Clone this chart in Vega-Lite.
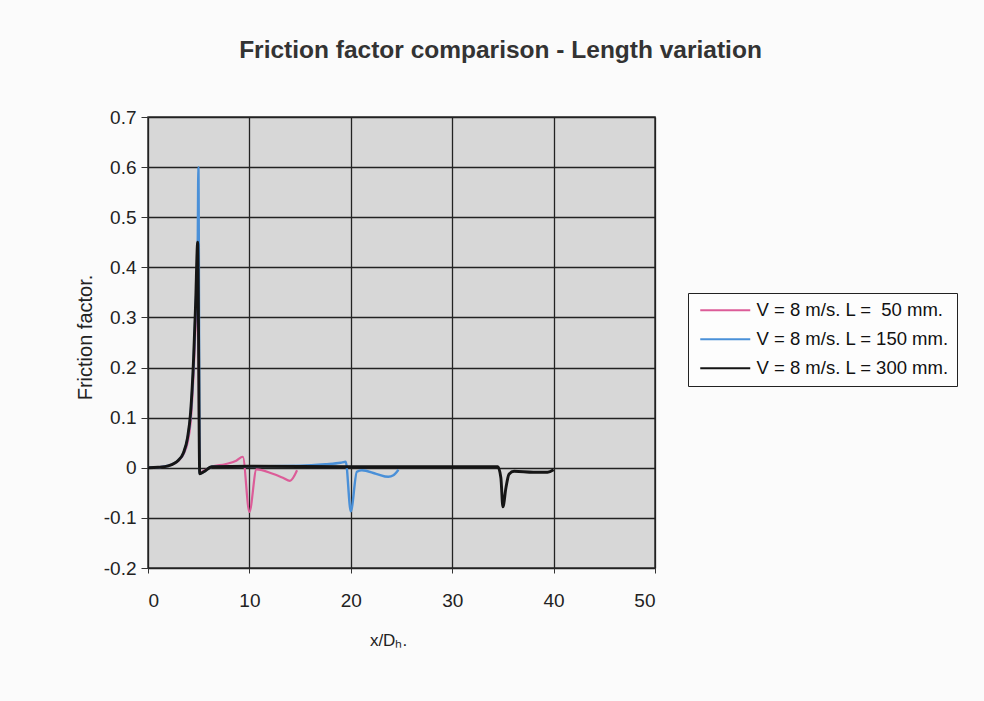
{
  "$schema": "https://vega.github.io/schema/vega-lite/v6.json",
  "autosize": {"type": "none"},
  "width": 507,
  "height": 451,
  "padding": {"left": 148, "top": 117, "right": 329, "bottom": 133},
  "background": "#fbfbfb",
  "title": {
    "text": "Friction factor comparison - Length variation",
    "anchor": "middle",
    "dx": 99,
    "offset": 45,
    "font": "Liberation Sans",
    "fontSize": 24.5,
    "fontWeight": "bold",
    "color": "#333333"
  },
  "config": {
    "view": {"fill": "#d7d7d7", "stroke": "#333333", "strokeWidth": 1.5},
    "font": "Liberation Sans"
  },
  "datasets": {
    "friction": [
      {"series": "V = 8 m/s. L = \u00a050 mm.", "x": 0, "f": 0.0},
      {"series": "V = 8 m/s. L = \u00a050 mm.", "x": 1, "f": 0.001},
      {"series": "V = 8 m/s. L = \u00a050 mm.", "x": 2, "f": 0.004},
      {"series": "V = 8 m/s. L = \u00a050 mm.", "x": 3, "f": 0.014},
      {"series": "V = 8 m/s. L = \u00a050 mm.", "x": 3.5, "f": 0.027},
      {"series": "V = 8 m/s. L = \u00a050 mm.", "x": 3.9, "f": 0.05},
      {"series": "V = 8 m/s. L = \u00a050 mm.", "x": 4.2, "f": 0.09},
      {"series": "V = 8 m/s. L = \u00a050 mm.", "x": 4.5, "f": 0.19},
      {"series": "V = 8 m/s. L = \u00a050 mm.", "x": 4.7, "f": 0.29},
      {"series": "V = 8 m/s. L = \u00a050 mm.", "x": 4.9, "f": 0.4},
      {"series": "V = 8 m/s. L = \u00a050 mm.", "x": 5.1, "f": -0.01},
      {"series": "V = 8 m/s. L = \u00a050 mm.", "x": 5.5, "f": -0.006},
      {"series": "V = 8 m/s. L = \u00a050 mm.", "x": 6.3, "f": 0.002},
      {"series": "V = 8 m/s. L = \u00a050 mm.", "x": 7.6, "f": 0.007},
      {"series": "V = 8 m/s. L = \u00a050 mm.", "x": 8.7, "f": 0.014},
      {"series": "V = 8 m/s. L = \u00a050 mm.", "x": 9.35, "f": 0.022},
      {"series": "V = 8 m/s. L = \u00a050 mm.", "x": 10.0, "f": -0.088},
      {"series": "V = 8 m/s. L = \u00a050 mm.", "x": 10.7, "f": -0.003},
      {"series": "V = 8 m/s. L = \u00a050 mm.", "x": 12.3, "f": -0.012},
      {"series": "V = 8 m/s. L = \u00a050 mm.", "x": 13.3, "f": -0.02},
      {"series": "V = 8 m/s. L = \u00a050 mm.", "x": 14.0, "f": -0.026},
      {"series": "V = 8 m/s. L = \u00a050 mm.", "x": 14.7, "f": -0.005},

      {"series": "V = 8 m/s. L = 150 mm.", "x": 0, "f": 0.0},
      {"series": "V = 8 m/s. L = 150 mm.", "x": 1, "f": 0.001},
      {"series": "V = 8 m/s. L = 150 mm.", "x": 2, "f": 0.004},
      {"series": "V = 8 m/s. L = 150 mm.", "x": 3, "f": 0.015},
      {"series": "V = 8 m/s. L = 150 mm.", "x": 3.5, "f": 0.029},
      {"series": "V = 8 m/s. L = 150 mm.", "x": 3.9, "f": 0.058},
      {"series": "V = 8 m/s. L = 150 mm.", "x": 4.2, "f": 0.105},
      {"series": "V = 8 m/s. L = 150 mm.", "x": 4.5, "f": 0.21},
      {"series": "V = 8 m/s. L = 150 mm.", "x": 4.7, "f": 0.32},
      {"series": "V = 8 m/s. L = 150 mm.", "x": 4.9, "f": 0.44},
      {"series": "V = 8 m/s. L = 150 mm.", "x": 4.97, "f": 0.6},
      {"series": "V = 8 m/s. L = 150 mm.", "x": 5.1, "f": -0.012},
      {"series": "V = 8 m/s. L = 150 mm.", "x": 5.5, "f": -0.008},
      {"series": "V = 8 m/s. L = 150 mm.", "x": 6.3, "f": 0.002},
      {"series": "V = 8 m/s. L = 150 mm.", "x": 10, "f": 0.003},
      {"series": "V = 8 m/s. L = 150 mm.", "x": 15, "f": 0.004},
      {"series": "V = 8 m/s. L = 150 mm.", "x": 17.5, "f": 0.007},
      {"series": "V = 8 m/s. L = 150 mm.", "x": 19.0, "f": 0.01},
      {"series": "V = 8 m/s. L = 150 mm.", "x": 19.5, "f": 0.012},
      {"series": "V = 8 m/s. L = 150 mm.", "x": 20.0, "f": -0.087},
      {"series": "V = 8 m/s. L = 150 mm.", "x": 20.6, "f": -0.008},
      {"series": "V = 8 m/s. L = 150 mm.", "x": 21.1, "f": -0.005},
      {"series": "V = 8 m/s. L = 150 mm.", "x": 22.5, "f": -0.012},
      {"series": "V = 8 m/s. L = 150 mm.", "x": 23.7, "f": -0.018},
      {"series": "V = 8 m/s. L = 150 mm.", "x": 24.2, "f": -0.015},
      {"series": "V = 8 m/s. L = 150 mm.", "x": 24.7, "f": -0.004},

      {"series": "V = 8 m/s. L = 300 mm.", "x": 0, "f": 0.0},
      {"series": "V = 8 m/s. L = 300 mm.", "x": 1, "f": 0.001},
      {"series": "V = 8 m/s. L = 300 mm.", "x": 2, "f": 0.004},
      {"series": "V = 8 m/s. L = 300 mm.", "x": 3, "f": 0.015},
      {"series": "V = 8 m/s. L = 300 mm.", "x": 3.5, "f": 0.03},
      {"series": "V = 8 m/s. L = 300 mm.", "x": 3.9, "f": 0.06},
      {"series": "V = 8 m/s. L = 300 mm.", "x": 4.2, "f": 0.11},
      {"series": "V = 8 m/s. L = 300 mm.", "x": 4.5, "f": 0.22},
      {"series": "V = 8 m/s. L = 300 mm.", "x": 4.7, "f": 0.33},
      {"series": "V = 8 m/s. L = 300 mm.", "x": 4.9, "f": 0.45},
      {"series": "V = 8 m/s. L = 300 mm.", "x": 5.1, "f": -0.012},
      {"series": "V = 8 m/s. L = 300 mm.", "x": 5.5, "f": -0.008},
      {"series": "V = 8 m/s. L = 300 mm.", "x": 6.3, "f": 0.002},
      {"series": "V = 8 m/s. L = 300 mm.", "x": 10, "f": 0.003},
      {"series": "V = 8 m/s. L = 300 mm.", "x": 20, "f": 0.002},
      {"series": "V = 8 m/s. L = 300 mm.", "x": 30, "f": 0.002},
      {"series": "V = 8 m/s. L = 300 mm.", "x": 34.5, "f": 0.002},
      {"series": "V = 8 m/s. L = 300 mm.", "x": 34.8, "f": -0.02},
      {"series": "V = 8 m/s. L = 300 mm.", "x": 35.0, "f": -0.078},
      {"series": "V = 8 m/s. L = 300 mm.", "x": 35.3, "f": -0.04},
      {"series": "V = 8 m/s. L = 300 mm.", "x": 35.6, "f": -0.013},
      {"series": "V = 8 m/s. L = 300 mm.", "x": 36.1, "f": -0.007},
      {"series": "V = 8 m/s. L = 300 mm.", "x": 38.0, "f": -0.009},
      {"series": "V = 8 m/s. L = 300 mm.", "x": 39.4, "f": -0.009},
      {"series": "V = 8 m/s. L = 300 mm.", "x": 40.0, "f": -0.004}
    ]
  },
  "data": {"name": "friction"},
  "encoding": {
    "x": {
      "field": "x",
      "type": "quantitative",
      "scale": {"domain": [0, 50], "nice": false, "zero": false},
      "axis": {
        "values": [0, 10, 20, 30, 40, 50],
        "title": "x/D\u2095.",
        "titleFont": "Liberation Sans",
        "titleFontSize": 17,
        "titleFontWeight": "normal",
        "titleColor": "#222222",
        "titlePadding": 22,
        "titleX": 240,
        "labelFont": "Liberation Sans",
        "labelFontSize": 19,
        "labelColor": "#222222",
        "labelPadding": 18,
        "tickSize": 5,
        "tickColor": "#333333",
        "domain": false,
        "grid": true,
        "gridColor": "#222222",
        "gridOpacity": 1,
        "gridWidth": 1.3
      }
    },
    "y": {
      "field": "f",
      "type": "quantitative",
      "scale": {"domain": [-0.2, 0.7], "nice": false, "zero": false},
      "axis": {
        "values": [-0.2, -0.1, 0, 0.1, 0.2, 0.3, 0.4, 0.5, 0.6, 0.7],
        "labelExpr": "'' + datum.value",
        "title": "Friction factor.",
        "titleFont": "Liberation Sans",
        "titleFontSize": 20,
        "titleFontWeight": "normal",
        "titleColor": "#222222",
        "titlePadding": 8,
        "titleY": 220,
        "labelFont": "Liberation Sans",
        "labelFontSize": 19,
        "labelColor": "#222222",
        "labelPadding": 5,
        "tickSize": 7,
        "tickColor": "#333333",
        "domain": false,
        "grid": true,
        "gridColor": "#222222",
        "gridOpacity": 1,
        "gridWidth": 1.3
      }
    },
    "color": {
      "field": "series",
      "type": "nominal",
      "scale": {
        "domain": ["V = 8 m/s. L = \u00a050 mm.", "V = 8 m/s. L = 150 mm.", "V = 8 m/s. L = 300 mm."],
        "range": ["#dc5c98", "#4a90d8", "#151515"]
      },
      "legend": {
        "title": null,
        "orient": "none",
        "legendX": 540,
        "legendY": 176,
        "symbolType": "M-9,0H1",
        "symbolSize": 100,
        "symbolStrokeWidth": 1.8,
        "symbolOffset": 40,
        "rowPadding": 10,
        "labelFont": "Liberation Sans",
        "labelFontSize": 18.5,
        "labelColor": "#111111",
        "labelOffset": 2,
        "labelLimit": 300,
        "padding": 8,
        "strokeColor": "#222222",
        "fillColor": "#fdfdfd"
      }
    }
  },
  "layer": [
    {
      "transform": [{"filter": "datum.series == 'V = 8 m/s. L = \u00a050 mm.'"}],
      "mark": {"type": "line", "strokeWidth": 2.2, "interpolate": "monotone", "clip": true}
    },
    {
      "transform": [{"filter": "datum.series == 'V = 8 m/s. L = 150 mm.'"}],
      "mark": {"type": "line", "strokeWidth": 2.4, "interpolate": "monotone", "clip": true}
    },
    {
      "transform": [{"filter": "datum.series == 'V = 8 m/s. L = 300 mm.'"}],
      "mark": {"type": "line", "strokeWidth": 2.9, "interpolate": "monotone", "clip": true}
    }
  ]
}
